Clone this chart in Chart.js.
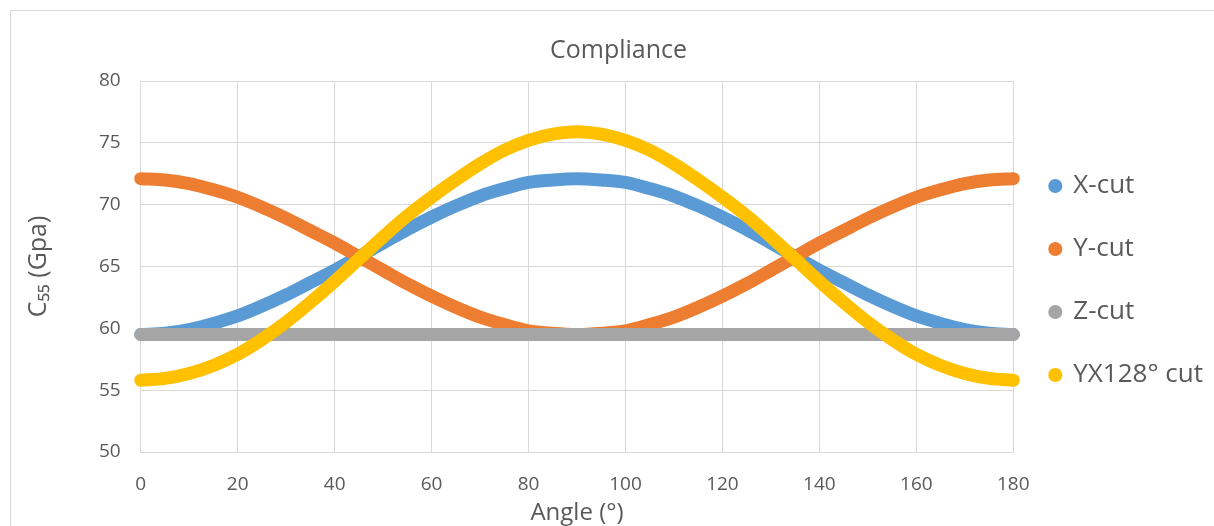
<!DOCTYPE html>
<html>
<head>
<meta charset="utf-8">
<script src="https://cdn.jsdelivr.net/npm/chart.js@4/dist/chart.umd.min.js"></script>
<style>
	html, body { margin: 0; padding: 0; background: #fff; overflow: hidden; }
	#wrap { position: relative; width: 1214px; height: 526px; }
	#frame { position: absolute; left: 10px; top: 10px; width: 1300px; height: 600px; border: 1px solid #d9d9d9; }
	canvas { position: absolute; left: 0; top: 0; }
</style>
</head>
<body>
<div id="wrap">
	<div id="frame"></div>
	<canvas id="chart" width="1214" height="526"></canvas>
</div>
<script>
const angles = [0, 5, 10, 15, 20, 25, 30, 35, 40, 45, 50, 55, 60, 65, 70, 75, 80, 85, 90,
	95, 100, 105, 110, 115, 120, 125, 130, 135, 140, 145, 150, 155, 160, 165, 170, 175, 180]
const xCut = [59.5, 59.6, 59.9, 60.4, 61.0, 61.8, 62.7, 63.7, 64.7, 65.8, 66.9, 68.0, 69.0, 69.9, 70.7, 71.3, 71.8, 72.0, 72.1,
	72.0, 71.8, 71.3, 70.7, 69.9, 69.0, 68.0, 66.9, 65.8, 64.7, 63.7, 62.7, 61.8, 61.0, 60.4, 59.9, 59.6, 59.5]
const yCut = [72.1, 72.0, 71.7, 71.2, 70.6, 69.8, 68.9, 67.9, 66.9, 65.8, 64.7, 63.6, 62.6, 61.7, 60.9, 60.3, 59.8, 59.6, 59.5,
	59.6, 59.8, 60.3, 60.9, 61.7, 62.6, 63.6, 64.7, 65.8, 66.9, 67.9, 68.9, 69.8, 70.6, 71.2, 71.7, 72.0, 72.1]
const zCut = [59.5, 59.5, 59.5, 59.5, 59.5, 59.5, 59.5, 59.5, 59.5, 59.5, 59.5, 59.5, 59.5, 59.5, 59.5, 59.5, 59.5, 59.5, 59.5,
	59.5, 59.5, 59.5, 59.5, 59.5, 59.5, 59.5, 59.5, 59.5, 59.5, 59.5, 59.5, 59.5, 59.5, 59.5, 59.5, 59.5, 59.5]
const yx128Cut = [55.8, 55.95, 56.35, 57.0, 57.9, 59.1, 60.5, 62.1, 63.8, 65.6, 67.4, 69.1, 70.6, 72.0, 73.3, 74.4, 75.2, 75.7, 75.9,
	75.7, 75.2, 74.4, 73.3, 72.0, 70.6, 69.1, 67.4, 65.6, 63.8, 62.1, 60.5, 59.1, 57.9, 57.0, 56.35, 55.95, 55.8]
const seriesNames = ["X-cut", "Y-cut", "Z-cut", "YX128° cut"]
const seriesColors = ["#5b9bd5", "#ed7d31", "#a5a5a5", "#ffc000"]
const yTicks = [50, 55, 60, 65, 70, 75, 80]

const toPoints = (values) => values.map((v, i) => ({x: angles[i], y: v}))
const allSeries = [xCut, yCut, zCut, yx128Cut]
const drawOrder = [3, 2, 1, 0]

const textColor = "#595959"
const gridColor = "#d9d9d9"
const fontFamily = "'Open Sans', 'Liberation Sans', sans-serif"

const datasets = allSeries.map((values, i) => ({
	label: seriesNames[i],
	data: toPoints(values),
	borderColor: seriesColors[i],
	backgroundColor: seriesColors[i],
	borderWidth: 13,
	borderCapStyle: "round",
	borderJoinStyle: "round",
	pointRadius: 0,
	pointHoverRadius: 0,
	cubicInterpolationMode: "monotone",
	showLine: true,
	clip: false,
	order: drawOrder[i]
}))

new Chart(document.getElementById("chart").getContext("2d"), {
	type: "scatter",
	data: { datasets: datasets },
	options: {
		responsive: false,
		animation: false,
		layout: { padding: { left: 24, right: 1, top: 36, bottom: 1 } },
		plugins: {
			title: {
				display: true,
				text: "Compliance",
				color: textColor,
				font: { family: fontFamily, size: 25, weight: "normal" },
				padding: { top: 0, bottom: 15 }
			},
			legend: {
				position: "right",
				align: "center",
				labels: {
					color: textColor,
					font: { family: fontFamily, size: 26 },
					usePointStyle: true,
					pointStyle: "circle",
					boxWidth: 10,
					boxHeight: 10,
					padding: 37,
					generateLabels: (chart) => chart.data.datasets.map((ds, i) => ({
						text: ds.label,
						fillStyle: ds.borderColor,
						strokeStyle: ds.borderColor,
						lineWidth: 0,
						pointStyle: "circle",
						fontColor: textColor,
						datasetIndex: i,
						hidden: false
					}))
				}
			},
			tooltip: { enabled: false }
		},
		scales: {
			x: {
				type: "linear",
				min: 0,
				max: 180,
				ticks: { stepSize: 20, color: textColor, font: { family: fontFamily, size: 19, lineHeight: 1 }, padding: 23.5 },
				grid: { color: gridColor, drawTicks: false },
				border: { color: gridColor },
				title: { display: true, text: "Angle (°)", color: textColor, font: { family: fontFamily, size: 24, lineHeight: 1 }, padding: { top: -17, bottom: 0 } }
			},
			y: {
				min: 50,
				max: 80,
				afterBuildTicks: (axis) => { axis.ticks = yTicks.map(v => ({value: v})) },
				ticks: { color: textColor, font: { family: fontFamily, size: 19 }, padding: 20 },
				grid: { color: gridColor, drawTicks: false },
				border: { color: gridColor },
				title: { display: true, text: "C₅₅ (Gpa)", color: textColor, font: { family: fontFamily, size: 25 }, padding: { top: 0, bottom: 25 } }
			}
		}
	}
})
</script>
</body>
</html>
